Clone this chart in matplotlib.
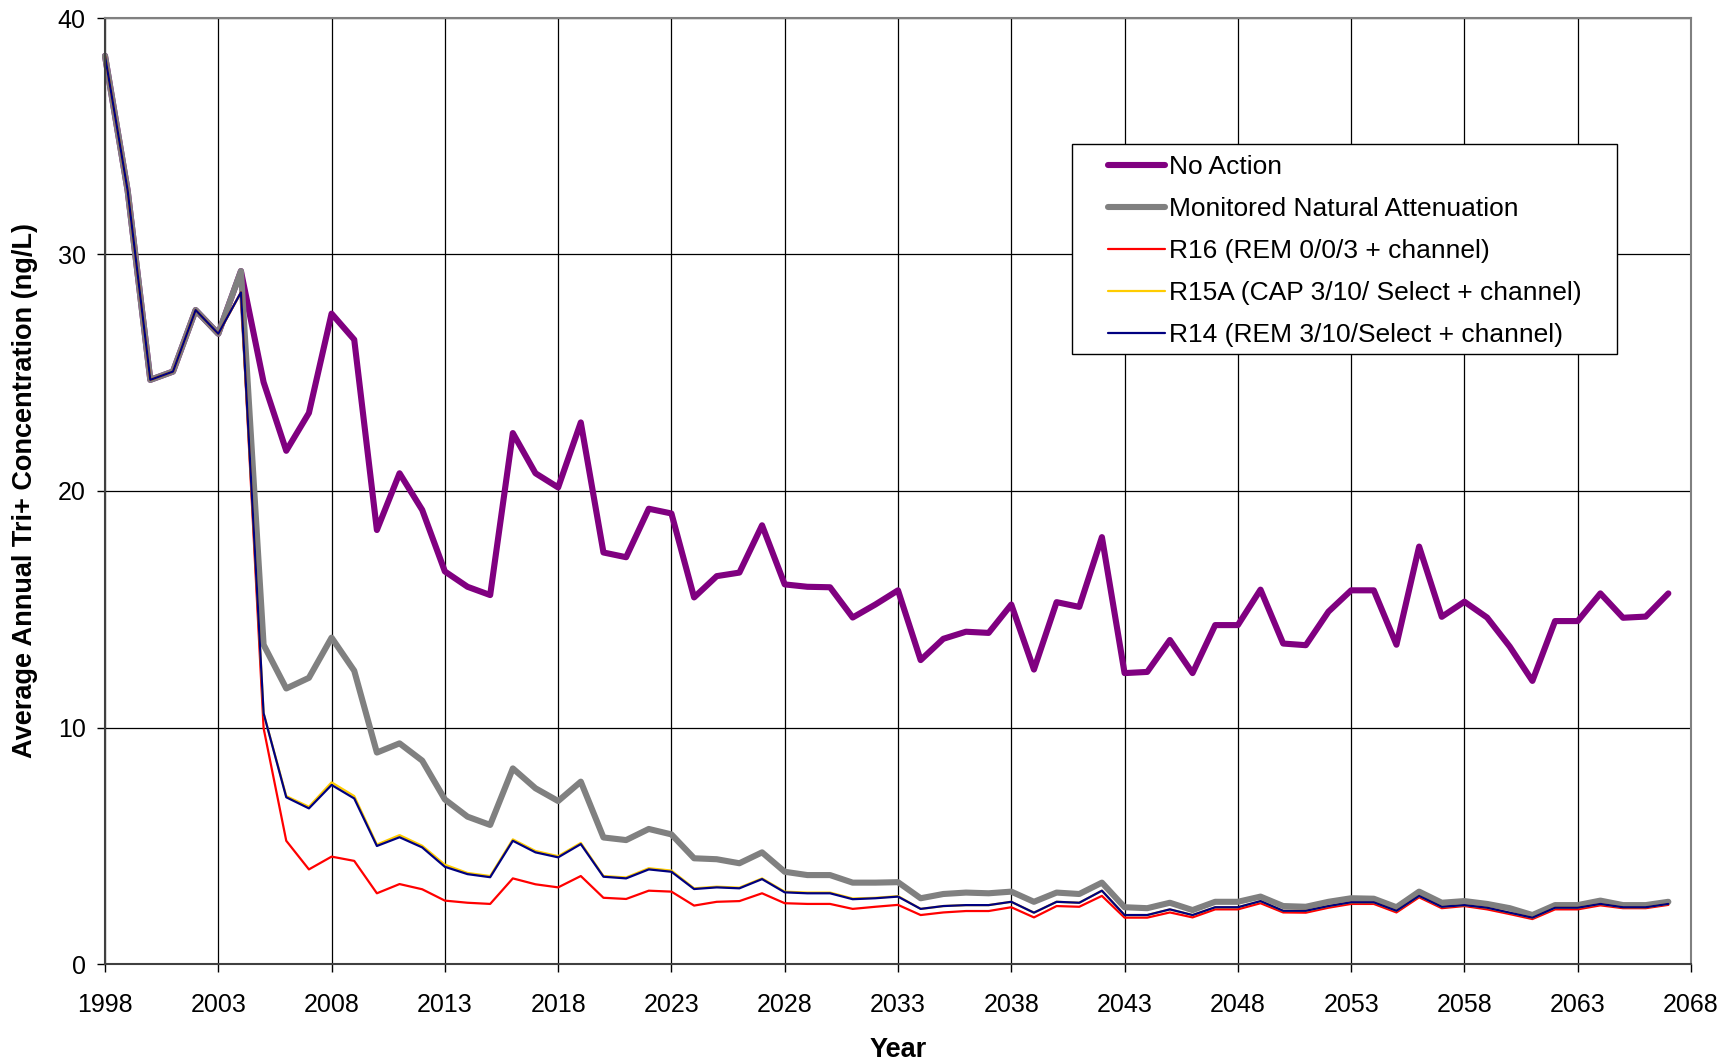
import matplotlib
matplotlib.use("Agg")
import matplotlib.pyplot as plt
from matplotlib.patches import Rectangle

plt.rcParams['font.family'] = ['Liberation Sans', 'DejaVu Sans']

years = list(range(1998, 2068))

no_action = [38.4, 32.7, 24.7, 25.05, 27.65, 26.65, 29.3, 24.6, 21.7, 23.3,
             27.5, 26.4, 18.35, 20.75, 19.2, 16.6, 15.95, 15.6, 22.45, 20.75,
             20.15, 22.9, 17.4, 17.2, 19.25, 19.05, 15.5, 16.4, 16.55, 18.55,
             16.05, 15.95, 15.93, 14.65, 15.2, 15.8, 12.85, 13.75, 14.05, 14.0,
             15.2, 12.45, 15.3, 15.1, 18.05, 12.3, 12.35, 13.7, 12.3, 14.33,
             14.33, 15.83, 13.55, 13.48, 14.9, 15.8, 15.8, 13.5, 17.65, 14.68,
             15.32, 14.65, 13.42, 11.97, 14.5, 14.5, 15.67, 14.64, 14.69, 15.67]

mna = [38.4, 32.7, 24.7, 25.05, 27.65, 26.65, 29.3, 13.5, 11.65, 12.1,
       13.8, 12.4, 8.94, 9.33, 8.6, 6.96, 6.23, 5.88, 8.27, 7.43,
       6.89, 7.71, 5.35, 5.24, 5.71, 5.48, 4.47, 4.43, 4.26, 4.72,
       3.9, 3.76, 3.76, 3.44, 3.44, 3.46, 2.78, 2.96, 3.02, 2.99,
       3.06, 2.63, 3.02, 2.96, 3.44, 2.4, 2.36, 2.59, 2.28, 2.63,
       2.63, 2.85, 2.45, 2.42, 2.63, 2.78, 2.76, 2.4, 3.06, 2.59,
       2.66, 2.54, 2.36, 2.07, 2.49, 2.49, 2.68, 2.49, 2.49, 2.63]

r16 = [38.4, 32.7, 24.7, 25.05, 27.65, 26.65, 28.4, 9.97, 5.21, 4.0,
       4.54, 4.36, 2.99, 3.38, 3.16, 2.68, 2.59, 2.54, 3.62, 3.37,
       3.24, 3.72, 2.8, 2.75, 3.1, 3.06, 2.47, 2.63, 2.66, 2.99,
       2.57, 2.54, 2.54, 2.33, 2.42, 2.5, 2.07, 2.18, 2.24, 2.24,
       2.4, 1.97, 2.45, 2.42, 2.88, 1.96, 1.96, 2.18, 1.97, 2.31,
       2.31, 2.57, 2.18, 2.17, 2.38, 2.54, 2.54, 2.18, 2.82, 2.36,
       2.45, 2.31, 2.11, 1.9, 2.31, 2.31, 2.48, 2.36, 2.36, 2.5]

r15a = [38.4, 32.7, 24.7, 25.05, 27.65, 26.65, 28.4, 10.6, 7.1, 6.65,
        7.68, 7.1, 5.05, 5.45, 5.0, 4.2, 3.85, 3.72, 5.27, 4.78,
        4.56, 5.12, 3.72, 3.66, 4.05, 3.95, 3.2, 3.27, 3.23, 3.62,
        3.06, 3.02, 3.02, 2.77, 2.8, 2.87, 2.33, 2.45, 2.49, 2.49,
        2.63, 2.17, 2.63, 2.59, 3.1, 2.07, 2.07, 2.31, 2.07, 2.4,
        2.4, 2.66, 2.25, 2.25, 2.45, 2.61, 2.61, 2.25, 2.88, 2.42,
        2.49, 2.38, 2.17, 1.96, 2.38, 2.38, 2.54, 2.4, 2.4, 2.54]

r14 = [38.4, 32.7, 24.7, 25.05, 27.65, 26.65, 28.4, 10.6, 7.05, 6.58,
       7.57, 7.0, 4.99, 5.36, 4.93, 4.11, 3.8, 3.67, 5.21, 4.72,
       4.51, 5.07, 3.69, 3.62, 4.0, 3.9, 3.17, 3.24, 3.2, 3.59,
       3.03, 2.99, 2.99, 2.74, 2.78, 2.85, 2.33, 2.45, 2.49, 2.49,
       2.63, 2.17, 2.63, 2.59, 3.1, 2.07, 2.07, 2.31, 2.07, 2.4,
       2.4, 2.66, 2.25, 2.25, 2.45, 2.61, 2.61, 2.25, 2.88, 2.42,
       2.49, 2.38, 2.17, 1.96, 2.38, 2.38, 2.54, 2.4, 2.4, 2.54]

labels = ["No Action", "Monitored Natural Attenuation", "R16 (REM 0/0/3 + channel)",
          "R15A (CAP 3/10/ Select + channel)", "R14 (REM 3/10/Select + channel)"]
series = [no_action, mna, r16, r15a, r14]
colors = ["#800080", "#808080", "#FF0000", "#FFCC00", "#000080"]
widths = [4.4, 4.4, 1.6, 1.6, 1.6]

xticks = list(range(1998, 2069, 5))
yticks = [0, 10, 20, 30, 40]

W, H = 1735, 1062
fig = plt.figure(figsize=(W / 100, H / 100), dpi=100)
L, R, T, B = 105, 1691, 18, 964
ax = fig.add_axes([L / W, 1 - B / H, (R - L) / W, (B - T) / H])

handles = []
for s, c, w, lab in zip(series, colors, widths, labels):
    h, = ax.plot(years, s, color=c, lw=w, label=lab,
                 solid_joinstyle='round', solid_capstyle='round', clip_on=False)
    handles.append(h)

ax.set_xlim(1998, 2068)
ax.set_ylim(0, 40)
ax.set_xticks(xticks)
ax.set_yticks(yticks)
ax.grid(True, color='black', lw=0.9)
ax.set_axisbelow(True)
ax.tick_params(axis='both', direction='out', length=6, width=1, labelsize=18, colors='black')
ax.tick_params(axis='x', pad=15)
ax.tick_params(axis='y', pad=8)
for side in ['top', 'right']:
    ax.spines[side].set_color('#808080')
    ax.spines[side].set_linewidth(1.5)
for side in ['left', 'bottom']:
    ax.spines[side].set_color('#404040')
    ax.spines[side].set_linewidth(1.5)

ax.set_xlabel("Year", fontsize=19.5, fontweight='bold')
ax.set_ylabel("Average Annual Tri+ Concentration (ng/L)", fontsize=19.5, fontweight='bold')
ax.xaxis.set_label_coords(0.5, -0.077)
ax.yaxis.set_label_coords(-0.0425, 0.5)

# legend box
bx0, by0, bx1, by1 = 1072, 144, 1617, 354
fig.patches.append(Rectangle((bx0 / W, 1 - by1 / H), (bx1 - bx0) / W, (by1 - by0) / H,
                             transform=fig.transFigure, facecolor='white',
                             edgecolor='black', lw=1.0, zorder=5))
leg = fig.legend(handles=handles, loc='upper left',
                 bbox_to_anchor=(1090 / W, 1 - 137 / H),
                 frameon=False, fontsize=19, handlelength=2.16, handletextpad=0.15,
                 labelspacing=0.68, borderpad=0.2)
leg.set_zorder(6)

fig.savefig("out.png", dpi=100, facecolor='white')
